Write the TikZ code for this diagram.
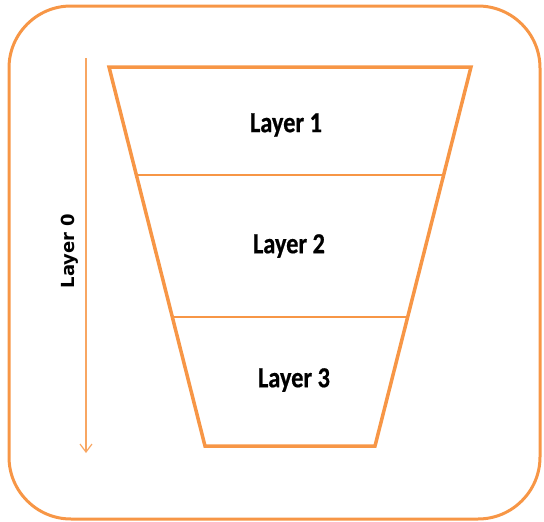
\documentclass[tikz,border=0pt]{standalone}
\usepackage{fontspec}
\usetikzlibrary{arrows.meta,calc}
\newfontfamily\layerfont[FakeStretch=0.84,BoldFeatures={FakeBold=0.6}]{Carlito}
\newfontfamily\sidefont{DejaVu Sans}
\definecolor{funnelorange}{HTML}{F79646}
\tikzset{
  frame/.style={draw=funnelorange, line width=3pt, rounded corners=62pt},
  funnel/.style={draw=funnelorange, line width=3.5pt, line join=miter},
  divider/.style={draw=funnelorange, line width=1.2pt},
  axis/.style={draw=funnelorange!85, line width=1.2pt, -{Straight Barb[length=8pt,width=12pt,line width=1.2pt]}},
  layerlabel/.style={font=\layerfont\bfseries\fontsize{29}{33}\selectfont, text=black, inner sep=0pt},
  sidelabel/.style={font=\sidefont\bfseries\fontsize{18}{22}\selectfont, text=black, rotate=90, inner sep=0pt}
}
\begin{document}
\begin{tikzpicture}[x=1pt,y=-1pt]
\useasboundingbox (0,0) rectangle (544,522);
\draw[frame] (9,6) rectangle (540,519);
\coordinate (tl) at (109,67);
\coordinate (tr) at (471,67);
\coordinate (br) at (375,446);
\coordinate (bl) at (205,446);
\draw[funnel] (tl) -- (tr) -- (br) -- (bl) -- cycle;
\coordinate (d1l) at ($(tl)!0.285!(bl)$);
\coordinate (d1r) at ($(tr)!0.285!(br)$);
\coordinate (d2l) at ($(tl)!0.6596!(bl)$);
\coordinate (d2r) at ($(tr)!0.6596!(br)$);
\draw[divider] (d1l) -- (d1r);
\draw[divider] (d2l) -- (d2r);
\node[layerlabel] (l1) at (286,125) {Layer 1};
\node[layerlabel] (l2) at (289,246) {Layer 2};
\node[layerlabel] (l3) at (294,380) {Layer 3};
\coordinate (astart) at (86,58);
\coordinate (aend) at (86,453);
\draw[axis] (astart) -- (aend);
\node[sidelabel] (l0) at (70,251) {Layer 0};
\end{tikzpicture}
\end{document}
